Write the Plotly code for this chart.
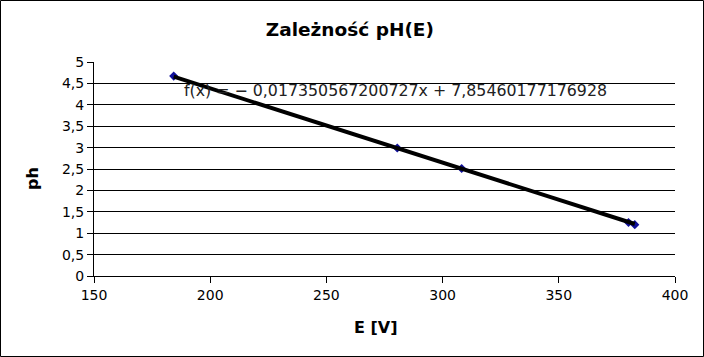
import plotly.graph_objects as go

E_values = [184.3, 280.5, 308.2, 380.0, 382.7]
pH_values = [4.67, 2.99, 2.51, 1.25, 1.20]
slope = -0.017350567200727
intercept = 7.85460177176928
equation_text = "f(x) = − 0,017350567200727x + 7,85460177176928"

W, H = 704, 357
ml, mr, mt, mb = 94, 29, 62, 81
pw, ph = W - ml - mr, H - mt - mb

fit_x = [min(E_values), max(E_values)]
fit_y = [slope * x + intercept for x in fit_x]

fig = go.Figure()
fig.add_trace(go.Scatter(x=E_values, y=pH_values, mode="markers",
                         marker=dict(symbol="diamond", size=7, color="#10109a",
                                     line=dict(width=0)),
                         showlegend=False))
fig.add_trace(go.Scatter(x=fit_x, y=fit_y, mode="lines",
                         line=dict(color="black", width=4), showlegend=False))

fig.add_annotation(x=188, y=4.33, xref="x", yref="y", text=equation_text,
                   showarrow=False, xanchor="left", yanchor="middle",
                   font=dict(family="DejaVu Sans", size=15.8, color="#222"))

# axis titles placed as in the reference
fig.add_annotation(x=(376 - ml) / pw, y=-(327 - (H - mb)) / ph,
                   xref="paper", yref="paper", text="<b>E [V]</b>",
                   showarrow=False, xanchor="center", yanchor="middle",
                   font=dict(family="DejaVu Sans", size=16, color="black"))
fig.add_annotation(x=(32 - ml) / pw, y=((H - mb) - 179) / ph,
                   xref="paper", yref="paper", text="<b>ph</b>", textangle=-90,
                   showarrow=False, xanchor="center", yanchor="middle",
                   font=dict(family="DejaVu Sans", size=16, color="black"))

fig.add_shape(type="rect", xref="paper", yref="paper",
              x0=-ml / pw + 0.5 / pw, x1=1 + (mr - 0.5) / pw,
              y0=-mb / ph + 0.5 / ph, y1=1 + (mt - 0.5) / ph,
              line=dict(color="black", width=1), layer="above")

fig.update_layout(
    width=W, height=H,
    margin=dict(l=ml, r=mr, t=mt, b=mb),
    paper_bgcolor="white", plot_bgcolor="white",
    separators=", ",
    font=dict(family="DejaVu Sans", size=14, color="black"),
    title=dict(text="<b>Zależność pH(E)</b>", x=0.497, xanchor="center",
               y=1 - 30 / H, yanchor="middle",
               font=dict(family="DejaVu Sans", size=18.5, color="black")),
    xaxis=dict(range=[150, 400], dtick=50, showgrid=False, zeroline=False,
               showline=True, linecolor="black", linewidth=1,
               ticks="outside", ticklen=6, tickcolor="black"),
    yaxis=dict(range=[0, 5], dtick=0.5, showgrid=True, gridcolor="black",
               gridwidth=1, zeroline=False, showline=True, linecolor="black",
               linewidth=1, ticks="outside", ticklen=6, tickcolor="black"),
)

fig.write_html("out.html",
               config={"displayModeBar": False},
               post_script="document.body.style.margin='0';"
                           "document.body.style.overflow='hidden';")
